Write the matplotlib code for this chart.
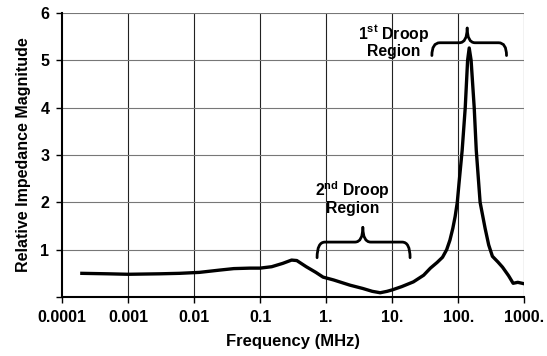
import numpy as np
import matplotlib
matplotlib.use("Agg")
import matplotlib.pyplot as plt
from matplotlib.path import Path
from matplotlib.patches import PathPatch

plt.rcParams['font.family'] = ['Liberation Sans', 'DejaVu Sans']
plt.rcParams['font.weight'] = 'bold'

# curve (frequency in MHz, relative magnitude)
freq = [0.0002, 0.0005, 0.001, 0.003, 0.006, 0.012, 0.025, 0.04, 0.07, 0.1, 0.15,
        0.22, 0.3, 0.36, 0.5, 0.7, 0.9, 1.3, 2.3, 3.6, 5.0, 6.6, 8.4, 10., 14., 21., 30., 38.,
        48., 58., 67., 75., 83., 90., 97., 103., 115., 128., 139., 147., 157., 175., 188.,
        215., 256., 290., 330., 400., 470., 580., 680., 800., 1000.]
mag = [0.50, 0.49, 0.48, 0.49, 0.50, 0.52, 0.57, 0.60, 0.61, 0.61, 0.64,
       0.71, 0.78, 0.77, 0.64, 0.52, 0.42, 0.36, 0.25, 0.18, 0.12, 0.09, 0.12, 0.15, 0.22, 0.32, 0.46, 0.61,
       0.73, 0.84, 1.00, 1.20, 1.45, 1.70, 2.00, 2.40, 3.10, 4.00, 5.00, 5.26, 5.00, 4.00, 3.10,
       2.00, 1.45, 1.10, 0.86, 0.74, 0.63, 0.45, 0.29, 0.31, 0.28]

xticks = [0.0001, 0.001, 0.01, 0.1, 1, 10, 100, 1000]
xlabels = ['0.0001', '0.001', '0.01', '0.1', '1.', '10.', '100.', '1000.']
yticks = [0, 1, 2, 3, 4, 5, 6]
ylabels = ['', '1', '2', '3', '4', '5', '6']


def brace(ax, x0, x1, xm, y, h_end, h_tip):
    # curly brace in log-x / linear-y data space, opening downwards
    lx0, lx1, lxm = np.log10(x0), np.log10(x1), np.log10(xm)
    q = 0.12
    left = [(lx0, y - h_end), (lx0, y), (lx0 + q, y), (lxm - q, y), (lxm, y), (lxm, y + h_tip)]
    right = [(lxm, y + h_tip), (lxm, y), (lxm + q, y), (lx1 - q, y), (lx1, y), (lx1, y - h_end)]
    c = [Path.MOVETO, Path.CURVE3, Path.CURVE3, Path.LINETO, Path.CURVE3, Path.CURVE3]
    for half in (left, right):
        v = [(10 ** a, b) for a, b in half]
        ax.add_patch(PathPatch(Path(v, c), fill=False, lw=2.0, color='black',
                               capstyle='round', zorder=4))


fig = plt.figure(figsize=(5.47, 3.56), dpi=100)
ax = fig.add_axes([0.1133, 0.1657, 0.845, 0.798])

ax.plot(freq, mag, color='black', lw=2.4, zorder=3, solid_joinstyle='round')
ax.set_xscale('log')
ax.set_xlim(0.0001, 1000)
ax.set_ylim(0, 6)
ax.set_xticks(xticks)
ax.set_xticklabels(xlabels)
ax.minorticks_off()
ax.set_yticks(yticks)
ax.set_yticklabels(ylabels)
ax.tick_params(labelsize=11.5, length=4, width=1, direction='out', pad=5)

for v in xticks[1:]:
    ax.axvline(v, color='#222222', lw=0.8, zorder=1)
for v in yticks[1:]:
    ax.axhline(v, color='#777777', lw=0.8, zorder=1)

for s in ['top', 'right']:
    ax.spines[s].set_visible(False)
ax.spines['left'].set_linewidth(1.5)
ax.spines['bottom'].set_linewidth(1.5)

ax.set_xlabel('Frequency (MHz)', fontsize=12, fontweight='bold', labelpad=7)
ax.set_ylabel('Relative Impedance Magnitude', fontsize=11.5, fontweight='bold', labelpad=7)

brace(ax, 0.73, 18.7, 3.6, 1.16, 0.33, 0.31)
brace(ax, 40, 540, 137, 5.37, 0.27, 0.31)

ax.text(2.5, 2.1, '2$^{\\mathregular{nd}}$ Droop\nRegion', ha='center', va='center',
        fontsize=11.3, fontweight='bold', linespacing=1.0, zorder=5)
ax.text(10.4, 5.41, '1$^{\\mathregular{st}}$ Droop\nRegion', ha='center', va='center',
        fontsize=11.3, fontweight='bold', linespacing=1.0, zorder=5)

fig.savefig('out.png', dpi=100)
